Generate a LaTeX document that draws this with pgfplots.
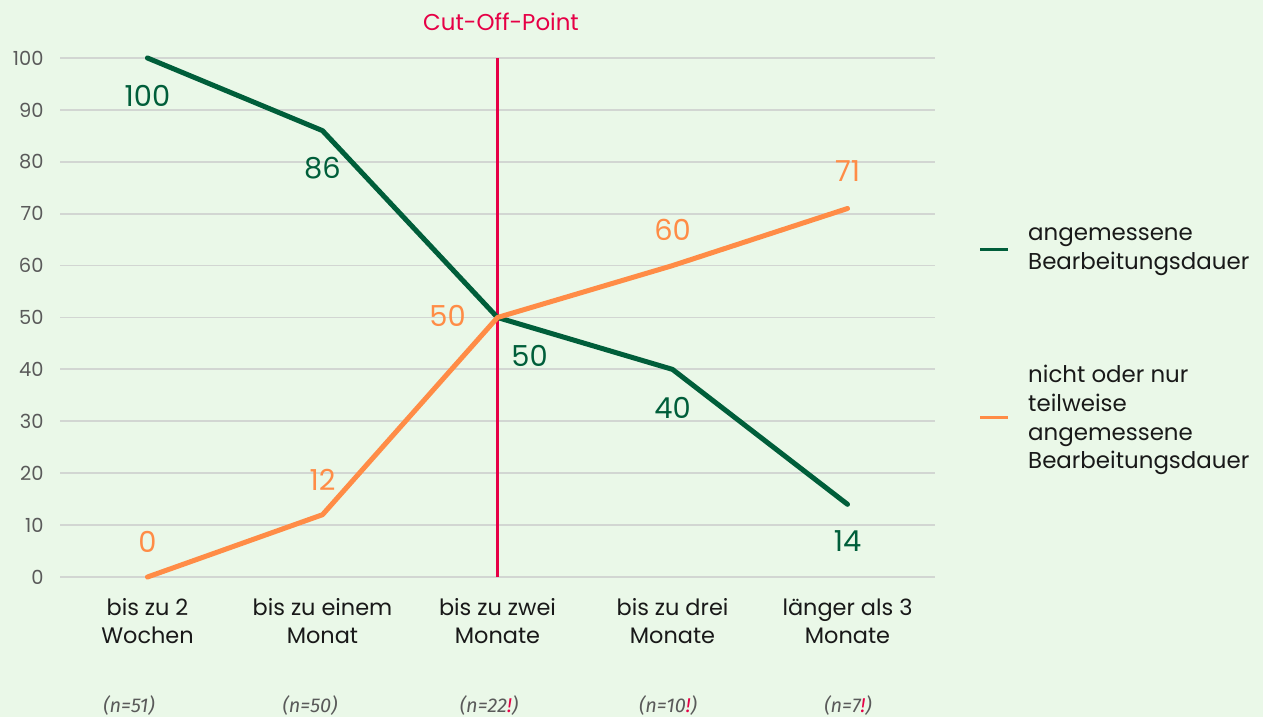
\documentclass[border=0pt]{standalone}
\usepackage{pgfplots}
\pgfplotsset{compat=1.18}
\usepackage{pgfplotstable}
\usepackage{fontspec}
\setmainfont{Poppins}
\newfontfamily\nfont{Fira Sans}
\definecolor{bg}{RGB}{234,248,232}
\definecolor{dgreen}{RGB}{0,94,58}
\definecolor{orng}{RGB}{255,140,70}
\definecolor{cred}{RGB}{230,0,70}
\definecolor{tickgray}{RGB}{90,90,90}
\definecolor{gridgray}{RGB}{210,214,210}
\definecolor{txt}{RGB}{25,25,25}

\pgfplotstableread{
x y dx dy
0 100 0 -38
1 86 0 -37
2 50 32 -38
3 40 0 -38
4 14 0 -37
}\greendata
\pgfplotstableread{
x y dx dy
0 0 0 35
1 12 0 35
2 50 -50 2
3 60 0 36
4 71 0 37
}\orangedata

\begin{document}
\begin{tikzpicture}[x=1bp,y=1bp]
\fill[bg] (0,0) rectangle (1263,717);
\begin{axis}[
  at={(60bp,140bp)}, anchor=south west,
  scale only axis, width=875bp, height=519bp,
  xmin=-0.5, xmax=4.5, ymin=0, ymax=100,
  clip=false,
  axis line style={draw=none},
  tick style={draw=none},
  ymajorgrids,
  major grid style={gridgray, line width=1.8bp},
  ytick={0,10,...,100},
  xtick={0,1,2,3,4},
  xticklabels={bis zu 2\\Wochen, bis zu einem\\Monat, bis zu zwei\\Monate, bis zu drei\\Monate, länger als 3\\Monate},
  xticklabel style={align=center, font=\fontsize{22.5}{28}\selectfont, text=txt, yshift=-18bp},
  yticklabel style={font=\fontsize{19.5}{21}\selectfont, text=tickgray, xshift=-13bp},
  /pgf/number format/assume math mode=true,
]
\addplot[cred, line width=3bp] coordinates {(2,0) (2,100)};
\addplot[dgreen, line width=5bp, line join=round, line cap=round,
  visualization depends on={\thisrow{dx}\as\dx},
  visualization depends on={\thisrow{dy}\as\dy},
  nodes near coords,
  every node near coord/.append style={anchor=center, xshift=\dx bp, yshift=\dy bp, font=\fontsize{29}{32}\selectfont, text=dgreen}
] table[x=x, y=y, meta=y] {\greendata};
\addplot[orng, line width=5bp, line join=round, line cap=round,
  visualization depends on={\thisrow{dx}\as\dx},
  visualization depends on={\thisrow{dy}\as\dy},
  nodes near coords,
  every node near coord/.append style={anchor=center, xshift=\dx bp, yshift=\dy bp, font=\fontsize{29}{32}\selectfont, text=orng}
] table[x=x, y=y, meta=y] {\orangedata};
\end{axis}
% title
\node[text=cred, font=\fontsize{23}{26}\selectfont] at (501,695) {Cut-Off-Point};
% n labels
\begin{scope}[every node/.style={font=\nfont\itshape\fontsize{20}{22}\selectfont, text=tickgray}]
\node at (129,11) {(n=51)};
\node at (310,11) {(n=50)};
\node at (489,11) {(n=22\textcolor{cred}{!})};
\node at (668,11) {(n=10\textcolor{cred}{!})};
\node at (848,11) {(n=7\textcolor{cred}{!})};
\end{scope}
% legend
\draw[dgreen, line width=3bp] (980,467) -- (1008,467);
\node[anchor=west, align=left, text=txt, font=\fontsize{23}{29}\selectfont, inner sep=0pt] at (1028,465) {angemessene\\Bearbeitungsdauer};
\draw[orng, line width=3bp] (980,299) -- (1008,299);
\node[anchor=west, align=left, text=txt, font=\fontsize{23}{29}\selectfont, inner sep=0pt] at (1028,297) {nicht oder nur\\teilweise\\angemessene\\Bearbeitungsdauer};
\end{tikzpicture}
\end{document}
